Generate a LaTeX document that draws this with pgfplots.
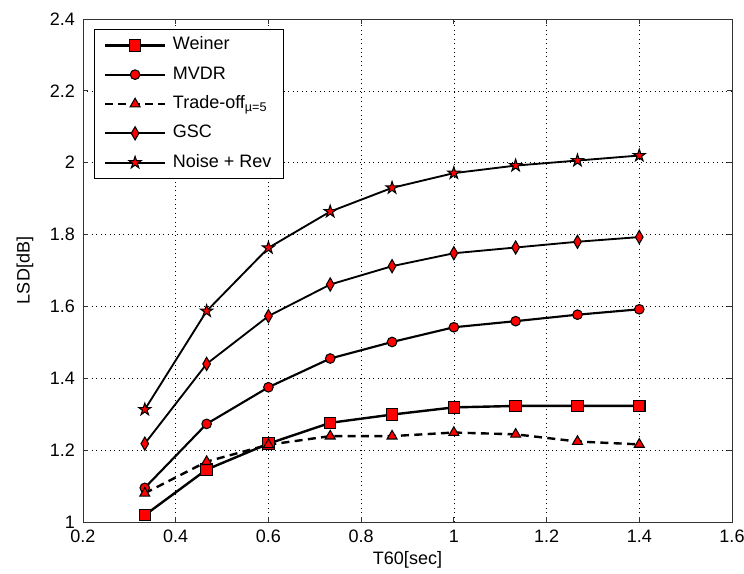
\documentclass[border=0pt]{standalone}
\usepackage{pgfplots}
\pgfplotsset{compat=1.18}
\usepackage{fontspec}
\setmainfont{Liberation Sans}
\pgfdeclareplotmark{pentagram}{%
  \pgfpathmoveto{\pgfpoint{0pt}{\pgfplotmarksize}}%
  \pgfpathlineto{\pgfpoint{-0.2245\pgfplotmarksize}{0.309\pgfplotmarksize}}%
  \pgfpathlineto{\pgfpoint{-0.951\pgfplotmarksize}{0.309\pgfplotmarksize}}%
  \pgfpathlineto{\pgfpoint{-0.363\pgfplotmarksize}{-0.118\pgfplotmarksize}}%
  \pgfpathlineto{\pgfpoint{-0.588\pgfplotmarksize}{-0.809\pgfplotmarksize}}%
  \pgfpathlineto{\pgfpoint{0pt}{-0.382\pgfplotmarksize}}%
  \pgfpathlineto{\pgfpoint{0.588\pgfplotmarksize}{-0.809\pgfplotmarksize}}%
  \pgfpathlineto{\pgfpoint{0.363\pgfplotmarksize}{-0.118\pgfplotmarksize}}%
  \pgfpathlineto{\pgfpoint{0.951\pgfplotmarksize}{0.309\pgfplotmarksize}}%
  \pgfpathlineto{\pgfpoint{0.2245\pgfplotmarksize}{0.309\pgfplotmarksize}}%
  \pgfpathclose
  \pgfusepathqfillstroke}
\pgfdeclareplotmark{thindiamond}{%
  \pgfpathmoveto{\pgfpoint{0pt}{1.3\pgfplotmarksize}}%
  \pgfpathlineto{\pgfpoint{-0.75\pgfplotmarksize}{0pt}}%
  \pgfpathlineto{\pgfpoint{0pt}{-1.3\pgfplotmarksize}}%
  \pgfpathlineto{\pgfpoint{0.75\pgfplotmarksize}{0pt}}%
  \pgfpathclose
  \pgfusepathqfillstroke}
\begin{document}
\begin{tikzpicture}
\useasboundingbox (-62.25pt,-39pt) rectangle (495.75pt,391.5pt);
\begin{axis}[
  scale only axis,
  width=486.75pt, height=377.25pt,
  at={(0,0)}, anchor=south west,
  xmin=0.2, xmax=1.6, ymin=1, ymax=2.4,
  xtick={0.2,0.4,...,1.6}, ytick={1,1.2,...,2.4},
  tick align=inside, major tick length=4pt,
  xtick pos=both, ytick pos=both,
  grid=major,
  grid style={black, line width=0.5pt, dash pattern=on 0.75pt off 2.6pt},
  axis line style={black!80, line width=0.6pt},
  tick style={black!80, line width=0.6pt},
  /pgf/number format/assume math mode=true,
  ticklabel style={font=\fontsize{13.5}{16}\selectfont},
  label style={font=\fontsize{13.5}{16}\selectfont},
  xlabel={T60[sec]}, ylabel={LSD[dB]},
  xticklabel style={yshift=-2.5pt},
  yticklabel style={xshift=-2.5pt},
  xlabel style={at={(axis description cs:0.5,-0.0755)}, anchor=center},
  ylabel style={at={(axis description cs:-0.0894,0.5)}, anchor=center},
  legend style={at={(rel axis cs:0.0174,0.980)}, anchor=north west,
    font=\fontsize{13.5}{16}\selectfont, draw=black,
    inner xsep=7pt, inner ysep=3.5pt, row sep=5pt, fill=white,
    nodes={inner sep=2pt, text height=10pt, text depth=3pt},
    /tikz/every odd column/.append style={column sep=3pt}},
  legend cell align=left,
  legend image code/.code={%
    \draw[mark repeat=2,mark phase=2] plot coordinates {(0pt,0pt) (22.5pt,0pt) (45pt,0pt)};},
  every axis plot/.append style={black, mark options={fill=red, draw=black, solid, line width=0.8pt}},
]
\addplot[line width=1.8pt, mark=square*, mark size=4.3pt] coordinates {
 (0.3333,1.019) (0.4667,1.146) (0.6,1.218) (0.7333,1.276) (0.8667,1.299) (1.0,1.319) (1.1333,1.323) (1.2667,1.323) (1.4,1.323)};
\addlegendentry{Weiner}
\addplot[line width=1.6pt, mark=*, mark size=3.6pt] coordinates {
 (0.3333,1.095) (0.4667,1.273) (0.6,1.375) (0.7333,1.455) (0.8667,1.501) (1.0,1.542) (1.1333,1.559) (1.2667,1.577) (1.4,1.592)};
\addlegendentry{MVDR}
\addplot[line width=1.8pt, dash pattern=on 6pt off 4pt, mark=triangle*, mark size=4.3pt] coordinates {
 (0.3333,1.080) (0.4667,1.168) (0.6,1.215) (0.7333,1.239) (0.8667,1.239) (1.0,1.249) (1.1333,1.244) (1.2667,1.224) (1.4,1.216)};
\addlegendentry{Trade-off\textsubscript{µ=5}}
\addplot[line width=1.4pt, mark=thindiamond, mark size=3.8pt] coordinates {
 (0.3333,1.218) (0.4667,1.440) (0.6,1.573) (0.7333,1.661) (0.8667,1.712) (1.0,1.748) (1.1333,1.764) (1.2667,1.780) (1.4,1.793)};
\addlegendentry{GSC}
\addplot[line width=1.4pt, mark=pentagram, mark size=4.8pt] coordinates {
 (0.3333,1.313) (0.4667,1.587) (0.6,1.763) (0.7333,1.864) (0.8667,1.930) (1.0,1.971) (1.1333,1.992) (1.2667,2.006) (1.4,2.020)};
\addlegendentry{Noise + Rev}
\end{axis}
\end{tikzpicture}
\end{document}
